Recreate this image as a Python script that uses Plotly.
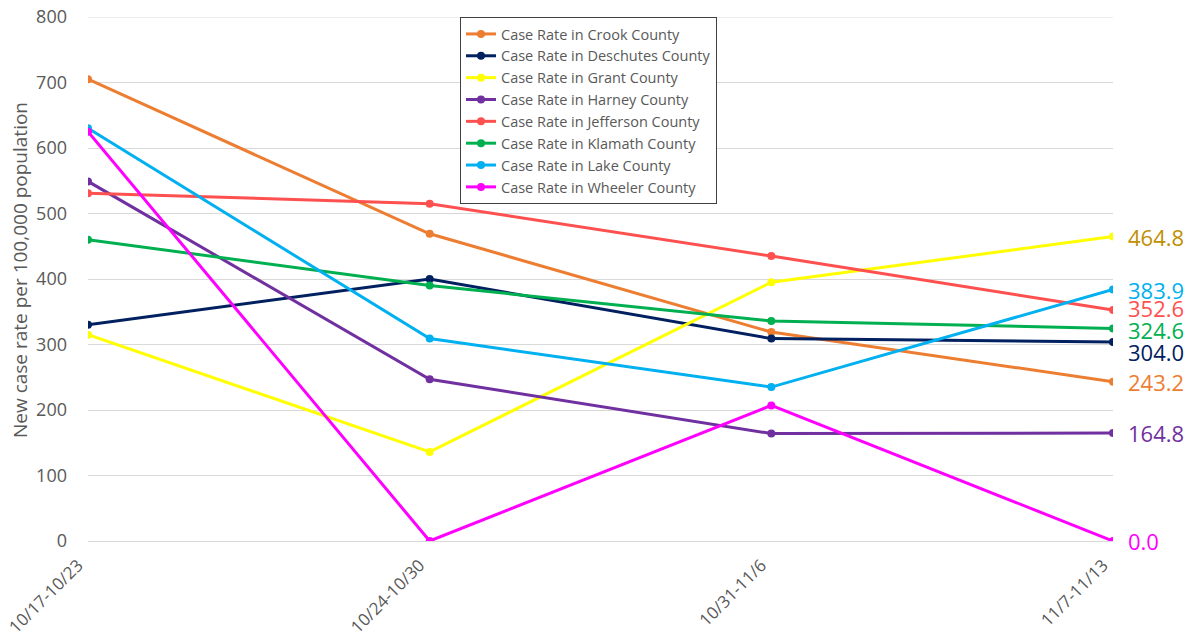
import plotly.graph_objects as go

weeks = ["10/17-10/23", "10/24-10/30", "10/31-11/6", "11/7-11/13"]
counties = ["Crook", "Deschutes", "Grant", "Harney", "Jefferson", "Klamath", "Lake", "Wheeler"]
crook = [705, 469, 319, 243.2]
deschutes = [330, 400, 309, 304.0]
grant = [315, 136, 395, 464.8]
harney = [549, 247, 164, 164.8]
jefferson = [531, 515, 435, 352.6]
klamath = [460, 390, 336, 324.6]
lake = [630, 309, 235, 383.9]
wheeler = [625, 0, 207, 0.0]
series = [crook, deschutes, grant, harney, jefferson, klamath, lake, wheeler]
colors = ["#ED7D31", "#002060", "#FFFF00", "#7030A0", "#FF5050", "#00B050", "#00B0F0", "#FF00FF"]
label_colors = ["#ED7D31", "#002060", "#BF9000", "#7030A0", "#FF5050", "#00B050", "#00B0F0", "#FF00FF"]
label_shift = [0, -10, 0, 0, 2, -2, 0, 0]
y_max = 800

FONT = "Open Sans"
GRAY = "#595959"

# page body adds an 8px margin; size the figure so the plot area lands on the reference pixels
OFF = 8
W, H = 1200 - OFF, 644 - OFF
PL, PR, PT, PB = 88 - OFF, 1113 - OFF, 17 - OFF, 541 - OFF

fig = go.Figure()
for name, vals, c in zip(counties, series, colors):
    fig.add_trace(go.Scatter(
        x=weeks, y=vals, mode="lines+markers",
        name=f"Case Rate in {name} County",
        line=dict(color=c, width=3),
        marker=dict(color=c, size=8),
    ))

for vals, lc, ys in zip(series, label_colors, label_shift):
    fig.add_annotation(
        x=weeks[-1], y=vals[-1], xref="x", yref="y",
        text=f"{vals[-1]:.1f}", showarrow=False,
        xanchor="left", yanchor="middle", xshift=13, yshift=ys,
        font=dict(family=FONT, size=22, color=lc),
    )

fig.add_annotation(
    x=(20 - 88) / (1113 - 88), y=(541 - 270) / (541 - 17),
    xref="paper", yref="paper",
    text="New case rate per 100,000 population", showarrow=False,
    textangle=-90, xanchor="center", yanchor="middle",
    font=dict(family=FONT, size=19, color=GRAY),
)

# top gridline (plotly omits gridlines on the plot edge)
fig.add_shape(type="line", xref="paper", yref="y", x0=0, x1=1, y0=y_max, y1=y_max,
              line=dict(color="#D9D9D9", width=1), layer="below")

fig.update_layout(
    width=W, height=H,
    margin=dict(l=PL, r=W - PR, t=PT, b=H - PB, autoexpand=False),
    paper_bgcolor="white", plot_bgcolor="white",
    font=dict(family=FONT, color=GRAY),
    legend=dict(
        x=(460 - 88) / (1113 - 88), y=1.0, xanchor="left", yanchor="top",
        bgcolor="white", bordercolor="#404040", borderwidth=1,
        font=dict(family=FONT, size=14.5, color=GRAY),
        tracegroupgap=0,
    ),
    xaxis=dict(
        type="category", range=[0, 3], showgrid=False, automargin=False,
        showline=False, ticks="", tickangle=-45,
        ticklabelshift=-10, ticklabelstandoff=10,
        tickfont=dict(family=FONT, size=17, color=GRAY),
    ),
    yaxis=dict(
        range=[0, y_max], tick0=0, dtick=100, showgrid=True, gridcolor="#D9D9D9",
        gridwidth=1, zeroline=True, zerolinecolor="#D9D9D9", zerolinewidth=1,
        showline=False, ticks="", automargin=False, ticklabelstandoff=20,
        ticklabeloverflow="allow",
        tickfont=dict(family=FONT, size=18, color=GRAY),
    ),
)

fig.write_html("out.html")
